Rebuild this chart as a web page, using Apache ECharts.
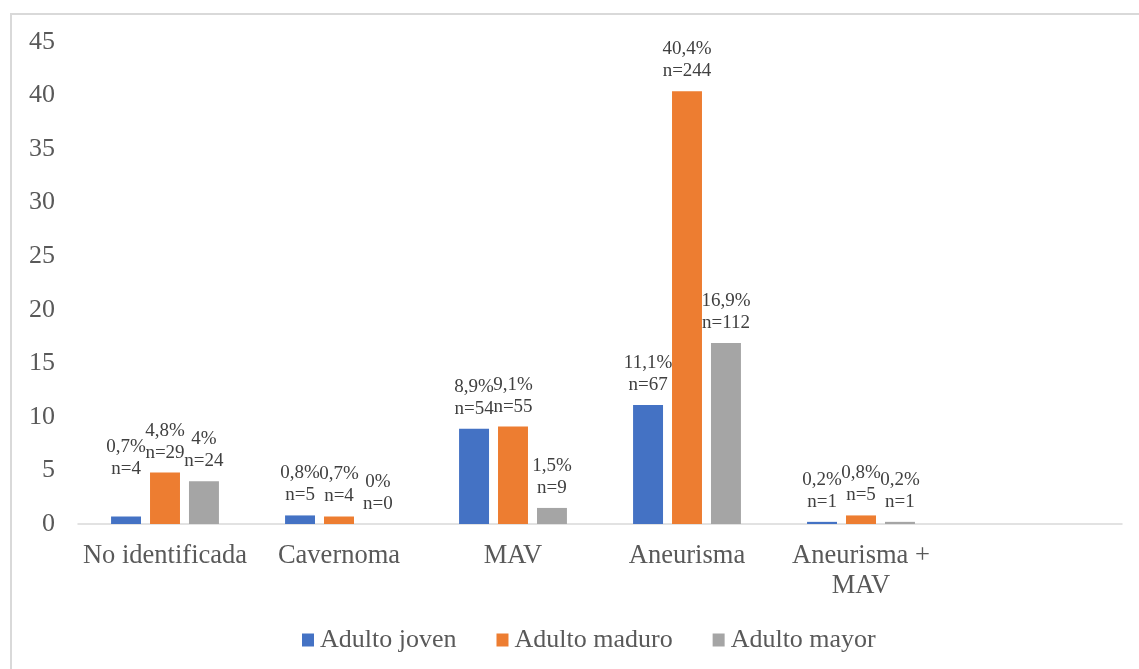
<!DOCTYPE html>
<html>
<head>
<meta charset="utf-8">
<script src="https://cdn.jsdelivr.net/npm/echarts@6/dist/echarts.min.js"></script>
<style>
  html, body { margin: 0; padding: 0; background: #fff; }
  #frame { position: absolute; left: 10px; top: 13px; width: 1129px; height: 656px;
           border-top: 2px solid #d9d9d9; border-left: 2px solid #d9d9d9; }
  #chart { position: absolute; left: 0; top: 0; width: 1139px; height: 669px; }
</style>
</head>
<body>
<div id="frame"></div>
<div id="chart"></div>
<script>
const categories = ['No identificada', 'Cavernoma', 'MAV', 'Aneurisma', 'Aneurisma +\nMAV', ''];
const seriesNames = ['Adulto joven', 'Adulto maduro', 'Adulto mayor'];
// porcentajes (eje Y)
const joven = [0.7, 0.8, 8.9, 11.1, 0.2, null];
const maduro = [4.8, 0.7, 9.1, 40.4, 0.8, null];
const mayor = [4, 0, 1.5, 16.9, 0.2, null];
// n de cada barra
const nJoven = [4, 5, 54, 67, 1, null];
const nMaduro = [29, 4, 55, 244, 5, null];
const nMayor = [24, 0, 9, 112, 1, null];
const colors = ['#4472C4', '#ED7D31', '#A5A5A5'];

const font = 'Liberation Serif';
const chart = echarts.init(document.getElementById('chart'));

function makeSeries(name, values, counts, color, idx) {
  return {
    name: name,
    type: 'bar',
    barGap: '30%',
    barCategoryGap: '38%',
    itemStyle: { color: color },
    data: values.map((v, i) => {
      const item = { value: v };
      // la etiqueta del primer "Adulto joven" está más arriba en el original
      if (idx === 0 && i === 0) item.label = { distance: 36 };
      return item;
    }),
    label: {
      show: true,
      position: 'top',
      distance: 9,
      fontFamily: font,
      fontSize: 19,
      lineHeight: 22,
      color: '#404040',
      formatter: p => {
        if (p.value == null) return '';
        return String(p.value).replace('.', ',') + '%\nn=' + counts[p.dataIndex];
      }
    }
  };
}

const option = {
  animation: false,
  textStyle: { fontFamily: font },
  grid: { left: 78, right: 17, top: 42, bottom: 145, containLabel: false },
  legend: {
    bottom: 11,
    left: 297,
    itemWidth: 12,
    itemHeight: 13,
    itemGap: 40,
    icon: 'rect',
    textStyle: { fontFamily: font, fontSize: 26, color: '#595959', padding: [0, 0, 0, 1] },
    data: seriesNames
  },
  xAxis: {
    type: 'category',
    data: categories,
    axisLine: { lineStyle: { color: '#d9d9d9', width: 1.5 } },
    axisTick: { show: false },
    axisLabel: { fontFamily: font, fontSize: 26.5, color: '#595959', margin: 17, lineHeight: 30, interval: 0 }
  },
  yAxis: {
    type: 'value',
    min: 0,
    max: 45,
    interval: 5,
    axisLine: { show: false },
    axisTick: { show: false },
    splitLine: { show: false },
    axisLabel: { fontFamily: font, fontSize: 26, color: '#595959', margin: 23 }
  },
  series: [
    makeSeries(seriesNames[0], joven, nJoven, colors[0], 0),
    makeSeries(seriesNames[1], maduro, nMaduro, colors[1], 1),
    makeSeries(seriesNames[2], mayor, nMayor, colors[2], 2)
  ]
};
chart.setOption(option);
</script>
</body>
</html>
